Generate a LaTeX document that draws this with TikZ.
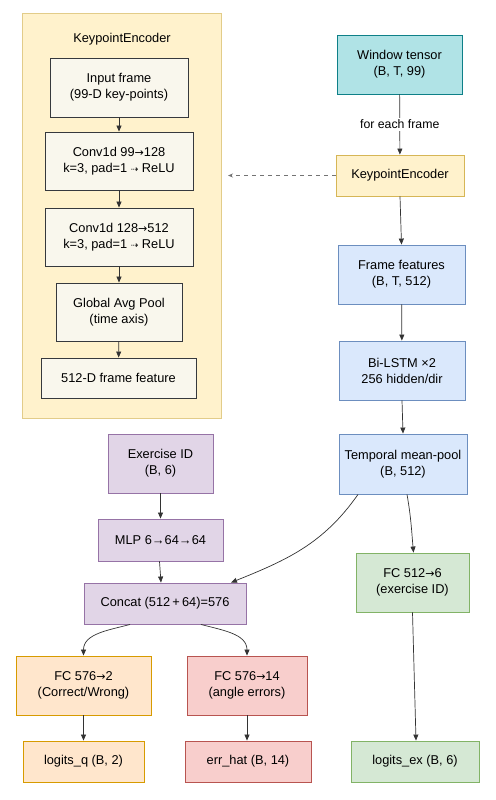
\documentclass[tikz,border=0pt]{standalone}
\usepackage{fontspec}
\setmainfont{Liberation Sans}
\newfontfamily\dejavu{DejaVu Sans}
\usetikzlibrary{arrows.meta}

\definecolor{encfill}{HTML}{FFF2CC}
\definecolor{encline}{HTML}{D6B656}
\definecolor{inner}{HTML}{F9F7ED}
\definecolor{innerline}{HTML}{36393D}
\definecolor{tealfill}{HTML}{B0E3E6}
\definecolor{tealline}{HTML}{0E8088}
\definecolor{bluefill}{HTML}{DAE8FC}
\definecolor{blueline}{HTML}{6C8EBF}
\definecolor{greenfill}{HTML}{D5E8D4}
\definecolor{greenline}{HTML}{82B366}
\definecolor{purplefill}{HTML}{E1D5E7}
\definecolor{purpleline}{HTML}{9673A6}
\definecolor{orangefill}{HTML}{FFE6CC}
\definecolor{orangeline}{HTML}{D79B00}
\definecolor{redfill}{HTML}{F8CECC}
\definecolor{redline}{HTML}{B85450}

\newcommand{\dar}{{\dejavu\small ⇢}}
\newcommand{\rar}{{\dejavu\fontsize{11}{14}\selectfont →}}

\tikzset{
  blk/.style={draw, line width=0.9pt, align=center, inner sep=2pt,
    font=\fontsize{12.8}{16}\selectfont},
  innerblk/.style={blk, fill=inner, draw=innerline},
  link/.style={draw=black!80, line width=0.7pt, -{Triangle[length=6pt,width=5pt]}}
}

\begin{document}
\begin{tikzpicture}[x=1pt,y=-1pt]
    \useasboundingbox (0,0) rectangle (495,800);

    % encoder detail
    \draw[fill=encfill, draw=encline!70, line width=0.9pt] (22,13) rectangle (221,418);
    \node[font=\fontsize{12.8}{15}\selectfont] (title) at (122,39) {KeypointEncoder};
    \node[innerblk, minimum width=138, minimum height=59] (inp) at (119,87.5) {Input frame\\(99-D key-points)};
    \node[innerblk, minimum width=148, minimum height=58] (conva) at (119,161) {Conv1d 99\rar128\\k=3, pad=1 \dar{} ReLU};
    \node[innerblk, minimum width=148, minimum height=58] (convb) at (119,237) {Conv1d 128\rar512\\k=3, pad=1 \dar{} ReLU};
    \node[innerblk, minimum width=126, minimum height=58] (pool) at (119,312) {Global Avg Pool\\(time axis)};
    \node[innerblk, minimum width=155, minimum height=40] (feat) at (118.5,378) {512-D frame feature};
    \draw[link] (inp) -- (conva);
    \draw[link] (conva) -- (convb);
    \draw[link] (convb) -- (pool);
    \draw[link] (pool) -- (feat);

    % main path
    \node[blk, fill=tealfill, draw=tealline, minimum width=125, minimum height=59] (win) at (399.5,64.5) {Window tensor\\(B, T, 99)};
    \node[blk, fill=encfill, draw=encline, minimum width=128, minimum height=41] (kenc) at (400,175.5) {KeypointEncoder};
    \node[blk, fill=bluefill, draw=blueline, minimum width=127, minimum height=59] (frm) at (401.5,274.5) {Frame features\\(B, T, 512)};
    \node[blk, fill=bluefill, draw=blueline, minimum width=126, minimum height=59] (lstm) at (402,370.5) {Bi-LSTM ×2\\256 hidden/dir};
    \node[blk, fill=bluefill, draw=blueline, minimum width=128, minimum height=60, inner sep=1pt] (tpool) at (403,464) {Temporal mean-pool\\(B, 512)};
    \node[blk, fill=greenfill, draw=greenline, minimum width=113, minimum height=59] (fcex) at (412.5,582.5) {FC 512\rar6\\(exercise ID)};
    \node[blk, fill=greenfill, draw=greenline, minimum width=128, minimum height=41] (lex) at (415,761.5) {logits\_ex (B, 6)};

    \coordinate (encin) at (228,175.5);
    \draw[link] (win) -- node[fill=white, inner sep=2pt, font=\fontsize{12.3}{14}\selectfont] {for each frame} (kenc);
    \draw[draw=black!55, line width=0.8pt, dashed, dash pattern=on 4pt off 4pt, -{Stealth[length=5pt,width=4pt]}] (kenc) -- (encin);
    \draw[link] (kenc.south) -- (frm.north);
    \draw[link] (frm) -- (lstm);
    \draw[link] (lstm.south) -- (tpool.north);
    \draw[link] ([xshift=4]tpool.south) to[out=-80,in=95] ([xshift=1]fcex.north);
    \draw[link] (fcex.south) -- ([xshift=1]lex.north);

    % exercise branch and heads
    \node[blk, fill=purplefill, draw=purpleline, minimum width=105, minimum height=59] (exid) at (160.5,463.5) {Exercise ID\\(B, 6)};
    \node[blk, fill=purplefill, draw=purpleline, minimum width=125, minimum height=42] (mlp) at (160.5,540) {MLP 6→64→64};
    \node[blk, fill=purplefill, draw=purpleline, minimum width=162, minimum height=41] (cat) at (165,603.5) {Concat (512\,+\,64)=576};
    \node[blk, fill=orangefill, draw=orangeline, minimum width=135, minimum height=59] (fcq) at (83.5,685.5) {FC 576\rar2\\(Correct/Wrong)};
    \node[blk, fill=orangefill, draw=orangeline, minimum width=121, minimum height=41] (lq) at (83.5,761.5) {logits\_q (B, 2)};
    \node[blk, fill=redfill, draw=redline, minimum width=120, minimum height=59] (fcerr) at (247,685.5) {FC 576\rar14\\(angle errors)};
    \node[blk, fill=redfill, draw=redline, minimum width=126, minimum height=41] (err) at (248,761.5) {err\_hat (B, 14)};

    \draw[link] (exid) -- (mlp);
    \draw[link] ([xshift=-1]mlp.south) -- (cat.north -| 161,0);
    \draw[link] ([xshift=-45]tpool.south) to[out=-125,in=22] ([xshift=66]cat.north);
    \draw[link] ([xshift=-35]cat.south) to[out=-165,in=90] (fcq.north);
    \draw[link] ([xshift=36]cat.south) to[out=-15,in=90] (fcerr.north);
    \draw[link] (fcq) -- (lq);
    \draw[link] (fcerr.south) -- (fcerr.south |- err.north);
\end{tikzpicture}
\end{document}
